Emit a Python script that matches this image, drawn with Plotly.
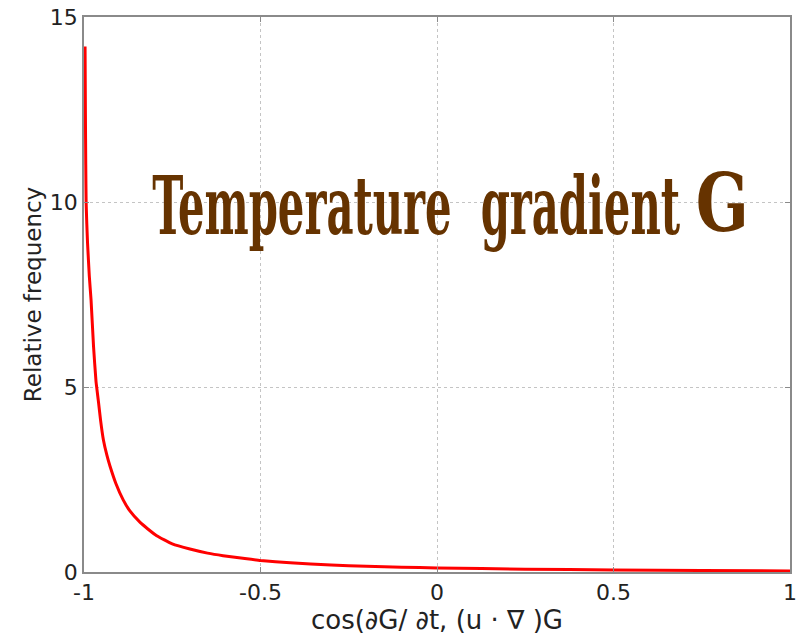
import plotly.graph_objects as go

# Relative frequency of the alignment cosine
cos_angle = [-0.997, -0.996, -0.995, -0.994, -0.992, -0.990, -0.985, -0.980,
             -0.973, -0.966, -0.959, -0.953, -0.945, -0.935, -0.926, -0.910,
             -0.889, -0.870, -0.841, -0.820, -0.794, -0.750, -0.700, -0.650,
             -0.606, -0.550, -0.500, -0.416, -0.300, -0.200, -0.100, 0.0,
             0.25, 0.5, 0.75, 1.0]
rel_freq = [14.2, 12.4, 11.0, 10.0, 9.4, 8.9, 8.0, 7.35,
            6.1, 5.15, 4.6, 4.1, 3.57, 3.15, 2.85, 2.4,
            1.95, 1.65, 1.34, 1.17, 0.98, 0.76, 0.62, 0.51,
            0.44, 0.37, 0.31, 0.25, 0.19, 0.155, 0.13, 0.11,
            0.075, 0.055, 0.04, 0.03]

x_ticks = [-1, -0.5, 0, 0.5, 1]
x_ticktext = ["-1", "-0.5", "0", "0.5", "1"]
y_ticks = [0, 5, 10, 15]
y_ticktext = ["0", "5", "10", "15"]

FONT = "DejaVu Sans, Arial, sans-serif"

fig = go.Figure()
fig.add_trace(go.Scatter(
    x=cos_angle, y=rel_freq, mode="lines",
    line=dict(color="#ff0000", width=3, shape="spline", smoothing=0.4),
    showlegend=False, hoverinfo="skip",
))

axis_common = dict(
    showline=True, linecolor="#8a8a8a", linewidth=1.5, mirror="ticks",
    ticks="inside", ticklen=5, tickcolor="#8a8a8a",
    showgrid=True, gridcolor="#c4c4c4", griddash="dot", gridwidth=1,
    zeroline=False, automargin=False,
    tickfont=dict(family=FONT, size=22, color="#222222"),
)

fig.update_xaxes(
    range=[-1, 1], tickvals=x_ticks, ticktext=x_ticktext,
    title=dict(text="cos(∂G/ ∂t, (u · ∇ )G", standoff=4,
               font=dict(family=FONT, size=26, color="#222222")),
    **axis_common,
)
fig.update_yaxes(
    range=[0, 15], tickvals=y_ticks, ticktext=y_ticktext,
    title=dict(text="Relative frequency", standoff=2,
               font=dict(family=FONT, size=23, color="#222222")),
    **axis_common,
)

# Caption inside the axes
fig.add_annotation(
    x=-0.06, y=9.88, xref="x", yref="y", showarrow=False,
    text="<b>Temperature  gradient</b>",
    font=dict(family="DejaVu Serif Condensed, DejaVu Serif, serif", size=80, color="#663300"),
    xanchor="center", yanchor="middle",
)
fig.add_annotation(
    x=0.807, y=9.98, xref="x", yref="y", showarrow=False,
    text="<b>G</b>",
    font=dict(family="DejaVu Serif, Liberation Serif, serif", size=80, color="#663300"),
    xanchor="center", yanchor="middle",
)

fig.update_layout(
    width=799, height=637,
    margin=dict(l=84, r=9, t=17, b=65),
    paper_bgcolor="white", plot_bgcolor="white",
)

# Narrow the caption glyphs horizontally to their drawn widths
post = """
var gd = document.getElementsByClassName('plotly-graph-div')[0];
function squeeze(){
  var texts = gd.querySelectorAll('.annotation-text');
  var widths = [528, 53];
  for (var i = 0; i < texts.length && i < widths.length; i++) {
    var t = texts[i];
    var s = widths[i] / t.getBBox().width;
    t.style.transformBox = 'fill-box';
    t.style.transformOrigin = 'center';
    t.style.transform = 'scaleX(' + s + ')';
  }
}
squeeze();
"""

fig.write_html("out.html", post_script=post)
